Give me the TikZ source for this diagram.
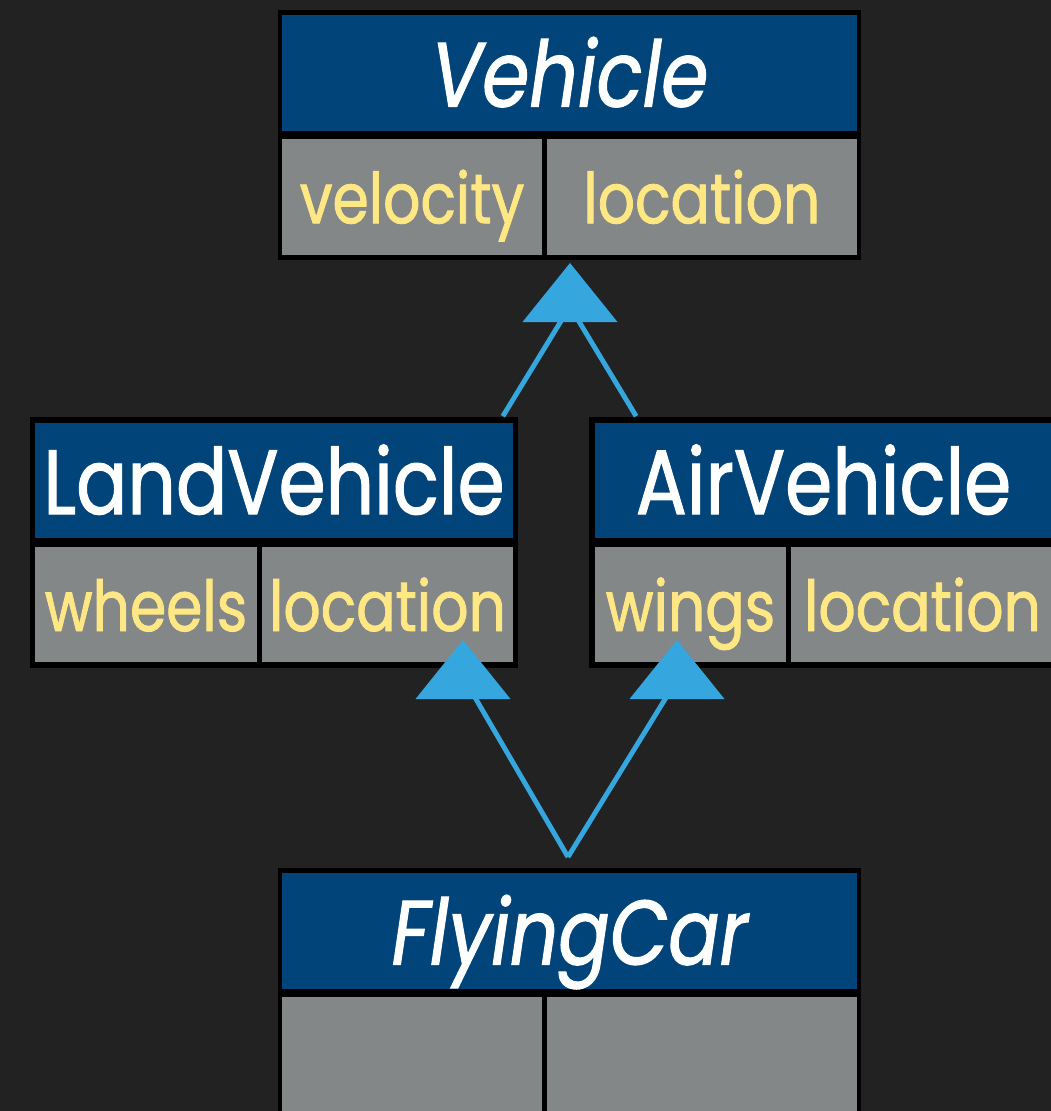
\documentclass[tikz,border=0pt]{standalone}
\usepackage{fontspec}
\setmainfont{Poppins}[FakeStretch=0.83, FakeBold=1.2]
\usepackage{xcolor}
\usetikzlibrary{positioning,calc}

\definecolor{bgdark}{HTML}{222222}
\definecolor{classblue}{HTML}{00447A}
\definecolor{fieldgray}{HTML}{838787}
\definecolor{fieldtext}{HTML}{FFE784}
\definecolor{arrowblue}{HTML}{35A7DE}

\tikzset{
  frame/.style={fill=black, inner sep=0pt},
  classname/.style={fill=classblue, text=white, inner sep=0pt,
    font=\fontsize{26}{26}\selectfont, text height=0.67cm, text depth=0pt},
  field/.style={fill=fieldgray, text=fieldtext, inner sep=0pt,
    font=\fontsize{20}{20}\selectfont, text height=0.53cm, text depth=0pt},
  inherit/.style={draw=arrowblue, line width=1.4pt}
}

% upright triangle hanging below a tip coordinate
\newcommand{\superarrow}[1]{\fill[arrowblue] (#1) -- ++(-47.5,59) -- ++(95,0) -- cycle;}

\begin{document}
\begin{tikzpicture}[x=0.01cm, y=-0.01cm]
            \useasboundingbox (0,0) rectangle (1051,1111);
            \clip (0,0) rectangle (1051,1111);
            \fill[bgdark] (0,0) rectangle (1051,1111);

            % Vehicle
            \node[frame, minimum width=5.83cm, minimum height=2.50cm] (vehicle) at (569.5,135) {};
            \node[classname, minimum width=5.745cm, minimum height=1.16cm] (vehicle-title) at (569.75,73) {\itshape Vehicle};
            \node[field, minimum width=2.592cm, minimum height=1.155cm] (vehicle-velocity) at (412.1,196.75) {velocity};
            \node[field, minimum width=3.103cm, minimum height=1.155cm] (vehicle-location) at (701.85,196.75) {location};

            % LandVehicle
            \node[frame, minimum width=4.88cm, minimum height=2.51cm] (land) at (274,542.5) {};
            \node[classname, minimum width=4.78cm, minimum height=1.15cm] (land-title) at (274,480.5) {LandVehicle};
            \node[field, minimum width=2.22cm, minimum height=1.15cm] (land-wheels) at (146,604.5) {wheels};
            \node[field, minimum width=2.51cm, minimum height=1.15cm] (land-location) at (387.5,604.5) {location};

            % AirVehicle
            \node[frame, minimum width=4.67cm, minimum height=2.51cm] (air) at (822.5,542.5) {};
            \node[classname, minimum width=4.57cm, minimum height=1.15cm] (air-title) at (823.5,480.5) {AirVehicle};
            \node[field, minimum width=1.91cm, minimum height=1.15cm] (air-wings) at (690.5,604.5) {wings};
            \node[field, minimum width=2.63cm, minimum height=1.15cm] (air-location) at (922.5,604.5) {location};

            % FlyingCar
            \node[frame, minimum width=5.83cm, minimum height=2.50cm] (car) at (569.5,993) {};
            \node[classname, minimum width=5.745cm, minimum height=1.16cm] (car-title) at (569.75,931) {\itshape FlyingCar};
            \node[field, minimum width=2.592cm, minimum height=1.16cm] (car-left) at (412.1,1055) {};
            \node[field, minimum width=3.103cm, minimum height=1.16cm] (car-right) at (701.85,1055) {};

            % inheritance
            \coordinate (vehicle-tip) at (570,263);
            \coordinate (land-tip) at (463,640);
            \coordinate (air-tip) at (677,640);
            \coordinate (join) at (568,857);
            \draw[inherit] ($(land.north east)+(-16,0)$) -- ($(vehicle-tip)+(10,27)$);
            \draw[inherit] ($(air.north west)+(48,0)$) -- ($(vehicle-tip)+(-10,27)$);
            \draw[inherit] (join) -- ($(land-tip)+(-4,30)$);
            \draw[inherit] (join) -- ($(air-tip)+(6,30)$);
            \superarrow{vehicle-tip}
            \superarrow{land-tip}
            \superarrow{air-tip}
            \end{tikzpicture}
\end{document}
